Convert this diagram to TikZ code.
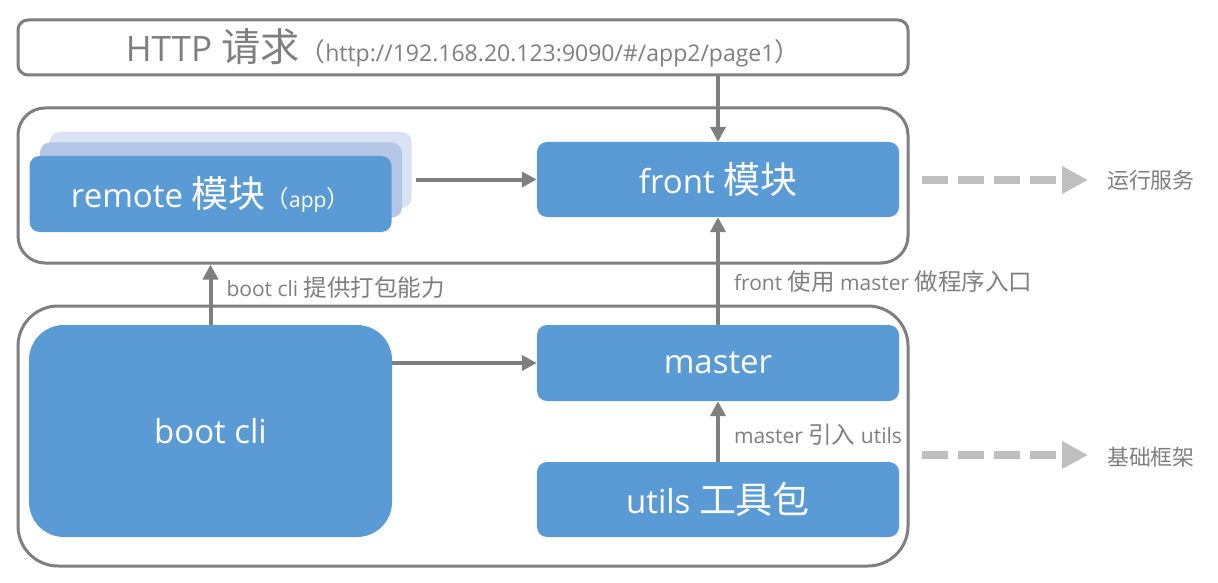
\documentclass[tikz,border=0pt]{standalone}
\usepackage{fontspec}
\setmainfont{Open Sans}
\newfontfamily\cjk[Scale=1.12]{Noto Sans CJK SC}
\usetikzlibrary{arrows.meta}
\definecolor{blu}{HTML}{5B9BD5}
\definecolor{blumid}{HTML}{B4C7E7}
\definecolor{bluback}{HTML}{DAE3F3}
\definecolor{gr}{HTML}{7F7F7F}
\definecolor{lgr}{HTML}{BFBFBF}
\definecolor{txt}{HTML}{7F7F7F}
\tikzset{
  frame/.style={draw=gr, line width=3pt, fill=none, inner sep=0pt},
  bluebox/.style={fill=blu, draw=none, rounded corners=10pt, inner sep=0pt, text=white,
    font=\fontsize{33}{36}\selectfont},
  conn/.style={draw=gr, line width=4pt, -{Triangle[length=15pt,width=15pt]}},
  dasharrow/.style={draw=lgr, line width=8pt, dash pattern=on 26pt off 10pt,
    -{Triangle[length=26pt,width=26pt]}},
  lbl/.style={text=txt, font=\fontsize{21}{24}\selectfont, inner sep=0pt},
  side/.style={text=txt, font=\fontsize{19.5}{24}\selectfont, inner sep=0pt, anchor=west}
}
\begin{document}
\begin{tikzpicture}[x=1pt,y=-1pt]
\useasboundingbox[fill=white] (0,0) rectangle (1218,583);

% HTTP box
\node[frame, rounded corners=10pt, minimum width=890pt, minimum height=55pt, text=txt] (http) at (463,47.5)
  {{\fontsize{35}{36}\selectfont HTTP {\cjk 请求}}{\fontsize{23}{24}\selectfont {\cjk （}http://192.168.20.123:9090/\#/app2/page1{\cjk ）}}};

% outer containers
\node[frame, rounded corners=27pt, minimum width=890pt, minimum height=155pt] (top) at (463,185.5) {};
\node[frame, rounded corners=40pt, minimum width=890pt, minimum height=260pt] (bottom) at (463,436) {};

% remote stack
\node[fill=bluback, rounded corners=10pt, minimum width=362pt, minimum height=76pt, inner sep=0pt] (rback) at (230.5,170) {};
\node[fill=blumid, rounded corners=10pt, minimum width=362pt, minimum height=75pt, inner sep=0pt] (rmid) at (221,180) {};
\node[bluebox, minimum width=362pt, minimum height=76pt] (remote) at (210.5,194)
  {remote {\cjk 模块}{\fontsize{21}{24}\selectfont {\cjk （}app{\cjk ）}}};

% front
\node[bluebox, minimum width=362pt, minimum height=75pt] (front) at (718,179.5) {front {\cjk 模块}};

% boot cli
\node[bluebox, rounded corners=35pt, minimum width=363pt, minimum height=212pt] (boot) at (210.5,431) {boot cli};

% master
\node[bluebox, minimum width=362pt, minimum height=76pt] (master) at (718,363) {master};

% utils
\node[bluebox, minimum width=362pt, minimum height=75pt] (utils) at (718,499.5) {utils {\cjk 工具包}};

% connectors
\draw[conn] (http.south -| front.north) -- (front.north);
\draw[conn] (rback.east |- front.west) ++(4pt,0) coordinate (rstart) -- (front.west);
\draw[conn] (boot.north) -- node[lbl, pos=0.62, anchor=west, xshift=14pt] {boot cli {\cjk 提供打包能力}} (boot.north |- top.south);
\draw[conn] (boot.east |- master.west) -- (master.west);
\draw[conn] (master.north) -- node[lbl, pos=0.40, anchor=west, xshift=14pt] {front {\cjk 使用} master {\cjk 做程序入口}} (front.south);
\draw[conn] (utils.north) -- node[lbl, pos=0.44, anchor=west, xshift=14pt] {master {\cjk 引入} utils} (master.south);

% side arrows
\coordinate (d1s) at (922,180);
\coordinate (d1e) at (1088,180);
\coordinate (d2s) at (922,455);
\coordinate (d2e) at (1088,455);
\draw[dasharrow] (d1s) -- (d1e);
\draw[dasharrow] (d2s) -- (d2e);
\node[side] (run) at (1107,180) {\cjk 运行服务};
\node[side] (base) at (1107,457) {\cjk 基础框架};
\end{tikzpicture}
\end{document}
